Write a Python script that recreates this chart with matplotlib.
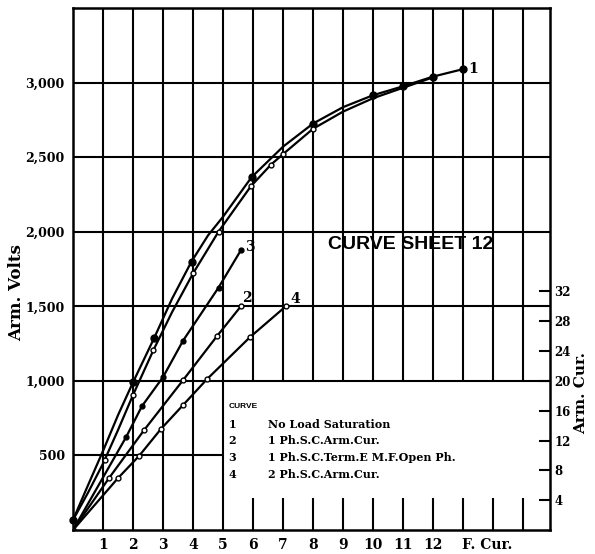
import numpy as np
import matplotlib.pyplot as plt

# curve 1 - no load saturation (two runs, filled dots and open circles)
x1a = [0, 0.5, 1, 1.5, 2, 2.7, 3.3, 3.95, 4.5, 5, 5.95, 7, 8, 9, 10, 11, 12, 13]
v1a = [67, 300, 530, 770, 990, 1285, 1550, 1800, 1975, 2100, 2365, 2570, 2725, 2835, 2915, 2975, 3040, 3090]
x1a_pts = [0, 2, 2.7, 3.95, 5.95, 8, 10, 11, 12, 13]
v1a_pts = [67, 990, 1285, 1800, 2365, 2725, 2915, 2975, 3040, 3090]

x1b = [0, 0.5, 1, 1.5, 2, 2.68, 3.3, 4, 4.85, 5.93, 6.6, 7, 8, 9, 10, 11, 12]
v1b = [67, 250, 445, 670, 905, 1206, 1460, 1720, 2000, 2305, 2450, 2520, 2690, 2805, 2895, 2965, 3035]
x1b_pts = [1.07, 2, 2.68, 4, 4.85, 5.93, 6.6, 7, 8]
v1b_pts = [470, 905, 1206, 1720, 2000, 2305, 2450, 2520, 2690]

# curve 2 - 1 ph. s.c. arm. cur.
x2 = [0, 1.2, 2.37, 3.67, 4.8, 5.6]
v2 = [0, 348, 670, 1005, 1300, 1501]
# curve 3 - 1 ph. s.c. term. e.m.f. open ph.
x3 = [0, 1.77, 2.3, 3.0, 3.67, 4.85, 5.6]
v3 = [0, 623, 831, 1025, 1270, 1625, 1877]
# curve 4 - 2 ph. s.c. arm. cur.
x4 = [0, 1.5, 2.2, 2.93, 3.67, 4.47, 5.9, 7.1]
v4 = [0, 348, 496, 677, 838, 1012, 1293, 1501]

xticks = [1, 2, 3, 4, 5, 6, 7, 8, 9, 10, 11, 12, 13.8]
xticklabels = ['1', '2', '3', '4', '5', '6', '7', '8', '9', '10', '11', '12', 'F. Cur.']
yticks = [500, 1000, 1500, 2000, 2500, 3000]
yticklabels = ['500', '1,000', '1,500', '2,000', '2,500', '3,000']
amp_ticks = [4, 8, 12, 16, 20, 24, 28, 32]

legend_nums = ['1', '2', '3', '4']
legend_names = ['No Load Saturation', '1 Ph.S.C.Arm.Cur.',
                '1 Ph.S.C.Term.E M.F.Open Ph.', '2 Ph.S.C.Arm.Cur.']

serif = 'DejaVu Serif'

fig = plt.figure(figsize=(5.95, 5.54), dpi=100)
ax = fig.add_axes([73/595, 1 - 530/554, 477/595, 522/554])
ax.set_xlim(0, 15.9)
ax.set_ylim(0, 3500)

# hand-drawn grid, with the legend box left blank
glw = 1.5
for gx in range(1, 16):
    if gx <= 5:
        ax.vlines(gx, 0, 3500, color='black', lw=glw)
    else:
        ax.vlines(gx, 1000, 3500, color='black', lw=glw)
        ax.vlines(gx, 0, 215, color='black', lw=glw)
for gy in yticks:
    if gy == 500:
        ax.hlines(gy, 0, 5, color='black', lw=glw)
    else:
        ax.hlines(gy, 0, 15.9, color='black', lw=glw)

for s in ax.spines.values():
    s.set_linewidth(1.8)

lw = 1.6
ax.plot(x1a, v1a, color='black', lw=lw, clip_on=False)
ax.plot(x1a_pts, v1a_pts, 'o', color='black', ms=5, clip_on=False)
ax.plot(x1b, v1b, color='black', lw=lw, clip_on=False)
ax.plot(x1b_pts, v1b_pts, 'o', mfc='white', mec='black', mew=1, ms=3.5)
ax.plot(x2, v2, color='black', lw=lw, marker='o', mfc='white', mec='black', mew=1, ms=3.5)
ax.plot(x3, v3, color='black', lw=lw, marker='o', ms=3.5)
ax.plot(x4, v4, color='black', lw=lw, marker='o', mfc='white', mec='black', mew=1, ms=3.5)

lab = dict(fontsize=10, fontweight='bold', family=serif, va='center', ha='left')
ax.annotate('1', (x1a[-1], v1a[-1]), xytext=(4, 0), textcoords='offset points', **lab)
ax.annotate('3', (x3[-1], v3[-1]), xytext=(3, 2), textcoords='offset points', **lab)
ax.annotate('2', (x2[-1], v2[-1]), xytext=(1, 6), textcoords='offset points', **lab)
ax.annotate('4', (x4[-1], v4[-1]), xytext=(3, 5), textcoords='offset points', **lab)

ax.text(11.27, 1917, 'CURVE SHEET 12', family='Liberation Sans', fontweight='bold',
        fontsize=14, ha='center', va='center')

# legend block
ax.text(5.2, 831, 'CURVE', family='Liberation Sans', fontweight='bold', fontsize=6,
        ha='left', va='center')
rows = [710, 597, 489, 375]
for num, name, ry in zip(legend_nums, legend_names, rows):
    ax.text(5.3, ry, num, family=serif, fontweight='bold', fontsize=8, ha='center', va='center')
    ax.text(6.5, ry, name, family=serif, fontweight='bold', fontsize=8, ha='left', va='center')

ax.set_xticks(xticks)
ax.set_xticklabels(xticklabels, family=serif, fontweight='bold', fontsize=10)
ax.set_yticks(yticks)
ax.set_yticklabels(yticklabels, family=serif, fontweight='bold', fontsize=9)
ax.tick_params(axis='both', length=0)
ax.tick_params(axis='x', pad=6)
ax.tick_params(axis='y', pad=6)
ax.set_ylabel('Arm. Volts', family=serif, fontweight='bold', fontsize=12)
ax.yaxis.set_label_coords(-0.1, 0.454)

ax2 = ax.twinx()
ax2.set_ylim(0, 70)
ax2.set_yticks(amp_ticks)
ax2.set_yticklabels([str(t) for t in amp_ticks], family=serif, fontweight='bold', fontsize=8.5)
ax2.tick_params(axis='y', direction='in', length=8, width=1.5, pad=3)
for s in ax2.spines.values():
    s.set_visible(False)
ax2.set_ylabel('Arm. Cur.', family=serif, fontweight='bold', fontsize=11)
ax2.yaxis.set_label_coords(1.05, 0.262)

fig.savefig('out.png', dpi=100)
